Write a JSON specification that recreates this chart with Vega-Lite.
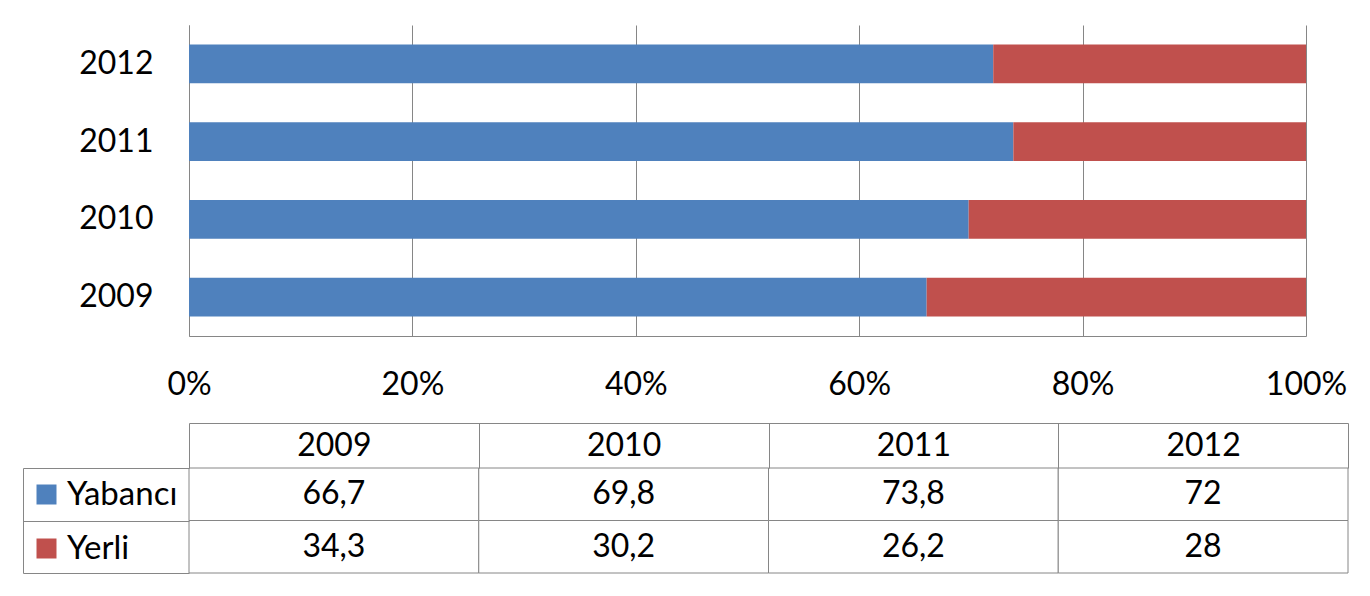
{
  "$schema": "https://vega.github.io/schema/vega-lite/v6.json",
  "padding": {"left": 22, "top": 25, "right": 5, "bottom": 5},
  "background": "white",
  "data": {
    "values": [
      {"year": "2009", "series": "Yabancı", "value": 66.7},
      {"year": "2009", "series": "Yerli", "value": 34.3},
      {"year": "2010", "series": "Yabancı", "value": 69.8},
      {"year": "2010", "series": "Yerli", "value": 30.2},
      {"year": "2011", "series": "Yabancı", "value": 73.8},
      {"year": "2011", "series": "Yerli", "value": 26.2},
      {"year": "2012", "series": "Yabancı", "value": 72},
      {"year": "2012", "series": "Yerli", "value": 28}
    ]
  },
  "spacing": 22,
  "resolve": {"legend": {"color": "independent"}, "scale": {"color": "independent"}},
  "vconcat": [
    {
      "width": 1117,
      "height": 311,
      "mark": {"type": "bar"},
      "encoding": {
        "y": {
          "field": "year", "type": "nominal", "sort": "descending",
          "scale": {"paddingInner": 0.5, "paddingOuter": 0.25},
          "axis": {"title": null, "domain": true, "domainColor": "#868686", "ticks": false, "labelFontSize": 32, "labelPadding": 36, "minExtent": 166, "maxExtent": 166, "grid": false}
        },
        "x": {
          "field": "value", "type": "quantitative", "stack": "normalize",
          "scale": {"domain": [0, 1], "nice": false},
          "axis": {"title": null, "values": [0, 0.2, 0.4, 0.6, 0.8, 1], "format": ".0%", "grid": true, "gridColor": "#868686", "gridOpacity": 1, "domainColor": "#868686", "ticks": false, "labelFontSize": 32, "labelPadding": 33, "labelFlush": false}
        },
        "color": {
          "field": "series", "type": "nominal",
          "scale": {"domain": ["Yabancı", "Yerli"], "range": ["#4F81BD", "#C0504D"]},
          "legend": null
        },
        "order": {"field": "series", "sort": "ascending"}
      }
    },
    {
      "width": 1159,
      "height": 105,
      "layer": [
        {
          "mark": {"type": "rect", "fill": "white", "stroke": "#868686", "strokeWidth": 1},
          "encoding": {
            "x": {
              "field": "year", "type": "nominal", "sort": "ascending",
              "scale": {"paddingInner": 0, "paddingOuter": 0},
              "axis": {"orient": "top", "offset": 45, "title": null, "tickBand": "extent", "tickSize": -45, "tickColor": "#868686", "domainColor": "#868686", "labelFontSize": 32, "labelPadding": 22.5, "labelBaseline": "middle", "labelAngle": 0, "grid": false}
            },
            "y": {
              "field": "series", "type": "nominal",
              "scale": {"domain": ["Yabancı", "Yerli"], "paddingInner": 0, "paddingOuter": 0},
              "axis": {"orient": "left", "offset": 166, "title": null, "tickBand": "extent", "tickSize": -166, "tickColor": "#868686", "domainColor": "#868686", "labels": false, "minExtent": 0, "grid": false}
            }
          }
        },
        {
          "mark": {"type": "text", "fontSize": 32, "color": "#000000"},
          "encoding": {
            "x": {"field": "year", "type": "nominal", "sort": "ascending"},
            "y": {"field": "series", "type": "nominal"},
            "text": {"field": "value", "type": "quantitative", "format": ".4~g"}
          }
        },
        {
          "mark": {"type": "square", "opacity": 0},
          "encoding": {
            "y": {"field": "series", "type": "nominal"},
            "color": {
              "field": "series", "type": "nominal",
              "scale": {"domain": ["Yabancı", "Yerli"], "range": ["#4F81BD", "#C0504D"]},
              "legend": {"orient": "none", "legendX": -159, "legendY": 10, "title": null, "symbolType": "square", "symbolSize": 400, "symbolOpacity": 1, "symbolStrokeWidth": 0, "labelFontSize": 33, "labelOffset": 4, "rowPadding": 20, "padding": 0}
            }
          }
        }
      ]
    }
  ],
  "config": {
    "font": "Lato",
    "view": {"stroke": null},
    "axis": {"labelColor": "#000000", "labelFont": "Lato"},
    "legend": {"labelFont": "Lato", "labelColor": "#000000"},
    "locale": {
      "number": {"decimal": ",", "thousands": ".", "grouping": [3], "currency": ["", " TL"]}
    }
  }
}
